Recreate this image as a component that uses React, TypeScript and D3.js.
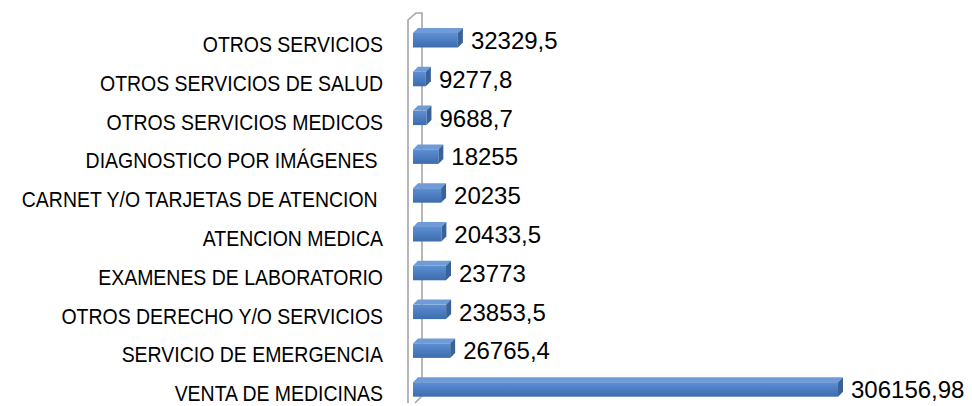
import React from "react";
import * as d3 from "d3";

const categories = [
  "OTROS SERVICIOS",
  "OTROS SERVICIOS DE SALUD",
  "OTROS SERVICIOS MEDICOS",
  "DIAGNOSTICO POR IMÁGENES ",
  "CARNET Y/O TARJETAS DE ATENCION ",
  "ATENCION MEDICA",
  "EXAMENES DE LABORATORIO",
  "OTROS DERECHO Y/O SERVICIOS",
  "SERVICIO DE EMERGENCIA",
  "VENTA DE MEDICINAS",
];
const values = [32329.5, 9277.8, 9688.7, 18255, 20235, 20433.5, 23773, 23853.5, 26765.4, 306156.98];
const valueLabels = ["32329,5", "9277,8", "9688,7", "18255", "20235", "20433,5", "23773", "23853,5", "26765,4", "306156,98"];

const W = 972;
const H = 406;

export default function App() {
  const x = d3.scaleLinear().domain([0, 306156.98]).range([413, 838]);
  const y = d3.scalePoint<string>().domain(categories).range([44, 393.2]);
  const dx = 5;
  const dy = 5;
  const wall = "M408,403 L408,20 L416,13 L422,13 L422,396 L415,403";
  return (
    <svg width={W} height={H} style={{ position: "absolute", left: 0, top: 0, background: "#fff" }}>
      <defs>
        <linearGradient id="front" x1="0" y1="0" x2="0" y2="1">
          <stop offset="0" stopColor="#5d8fd2" />
          <stop offset="0.5" stopColor="#4b7dc0" />
          <stop offset="1" stopColor="#3f6dad" />
        </linearGradient>
      </defs>
      <path d={wall} fill="none" stroke="#a6a6a6" strokeWidth={1.6} />
      {categories.map((c, i) => {
        const L = y(c)!;
        const x0 = x(0);
        const x1 = x(values[i]);
        const t = L - 11;
        const b = L + 3.5;
        return (
          <g key={c}>
            <polygon
              points={`${x0},${t} ${x0 + dx},${t - dy} ${x1 + dx},${t - dy} ${x1},${t}`}
              fill="#6f9bd6"
            />
            <polygon
              points={`${x1},${t} ${x1 + dx},${t - dy} ${x1 + dx},${b - dy} ${x1},${b}`}
              fill="#3a6299"
            />
            <rect x={x0} y={t} width={x1 - x0} height={b - t} fill="url(#front)" />
            <text
              x={x1 + dx + 8}
              y={L + 5}
              fontFamily="'Liberation Sans', Arial, sans-serif"
              fontSize={24}
              fill="#000"
            >
              {valueLabels[i]}
            </text>
            <text
              transform={`translate(383,${L + 8}) scale(0.885,1)`}
              textAnchor="end"
              fontFamily="'Liberation Sans', Arial, sans-serif"
              fontSize={22}
              fill="#000"
              style={{ whiteSpace: "pre" }}
            >
              {c}
            </text>
          </g>
        );
      })}
    </svg>
  );
}
